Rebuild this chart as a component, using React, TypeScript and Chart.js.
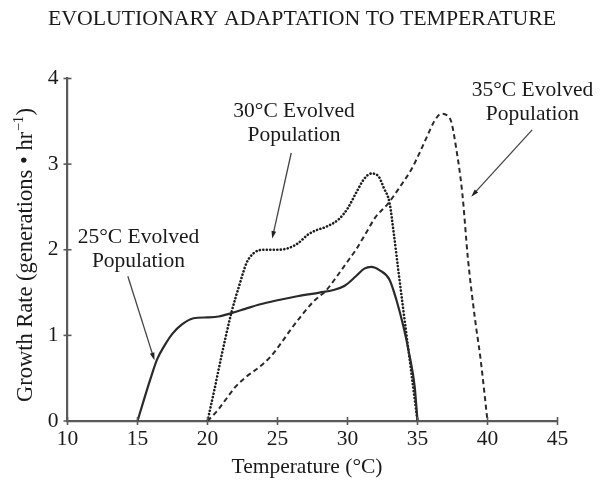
import React, { useEffect, useRef } from "react";
import { Chart, registerables } from "chart.js";

Chart.register(...registerables);

// ---- text ----
const chartTitle = "EVOLUTIONARY ADAPTATION TO TEMPERATURE";
const xAxisTitle = "Temperature (°C)";
const yAxisTitleMain = "Growth Rate (generations • hr";
const yAxisTitleSup = "−1";
const yAxisTitleEnd = ")";

// ---- ticks ----
const xTickValues = [10, 15, 20, 25, 30, 35, 40, 45];
const yTickValues = [0, 1, 2, 3, 4];

// ---- 25°C evolved population (solid) ----
const pop25Temp = [15, 15.5, 16, 16.4, 17, 17.5, 18.2, 19, 20, 20.8, 21.7, 22.7, 23.7, 25, 26.5, 28, 29, 29.8, 30.6, 31.2, 31.7, 32.3, 33, 33.5, 34, 34.4, 34.8, 35];
const pop25Rate = [0, 0.27, 0.53, 0.72, 0.9, 1.02, 1.13, 1.2, 1.21, 1.22, 1.26, 1.31, 1.36, 1.41, 1.46, 1.5, 1.53, 1.58, 1.69, 1.78, 1.8, 1.76, 1.65, 1.41, 1.1, 0.79, 0.4, 0];

// ---- 30°C evolved population (dotted) ----
const pop30Temp = [20, 20.5, 21, 21.7, 22.3, 22.8, 23.3, 24, 25, 25.8, 26.5, 27.2, 27.8, 28.5, 29.4, 30, 30.6, 31.2, 31.7, 32.2, 32.6, 33, 33.3, 33.6, 34, 34.5, 35];
const pop30Rate = [0, 0.37, 0.76, 1.26, 1.6, 1.85, 1.96, 2.0, 2.0, 2.02, 2.08, 2.18, 2.23, 2.27, 2.36, 2.48, 2.66, 2.83, 2.89, 2.86, 2.72, 2.55, 2.2, 1.8, 1.28, 0.64, 0];

// ---- 35°C evolved population (dashed) ----
const pop35Temp = [20, 20.7, 21.3, 22, 22.8, 23.7, 24.5, 25.3, 26, 26.8, 27.6, 28.5, 29.2, 29.9, 30.6, 31.3, 32, 32.9, 33.6, 34.6, 35.2, 35.7, 36.2, 36.7, 37.1, 37.4, 37.75, 38.2, 38.6, 39.1, 39.5, 40];
const pop35Rate = [0, 0.12, 0.25, 0.4, 0.52, 0.63, 0.75, 0.92, 1.08, 1.25, 1.4, 1.53, 1.68, 1.84, 2.0, 2.19, 2.38, 2.54, 2.7, 2.95, 3.15, 3.33, 3.5, 3.59, 3.57, 3.5, 3.2, 2.66, 1.9, 1.2, 0.73, 0];

// ---- annotations (data coordinates) ----
const annotationText = [
  ["25°C Evolved", "Population"],
  ["30°C Evolved", "Population"],
  ["35°C Evolved", "Population"],
];
const annotationLabelX = [15.07, 26.18, 43.21];
const annotationLabelY = [2.14, 3.62, 3.86];
const arrowFromX = [14.31, 25.98, 43.19];
const arrowFromY = [1.69, 3.13, 3.4];
const arrowToX = [16.21, 24.62, 38.84];
const arrowToY = [0.71, 2.13, 2.62];

const SERIF = '"Liberation Serif", "Times New Roman", serif';
const INK = "#1a1a1a";
const AXIS = "#5a5a5a";

const toPoints = (xs: number[], ys: number[]) => xs.map((x, i) => ({ x, y: ys[i] }));

const decorPlugin = {
  id: "decor",
  afterDraw(chart: any) {
    const { ctx, scales } = chart;
    const xs = scales.x;
    const ys = scales.y;
    ctx.save();

    // tick marks crossing the axes
    ctx.strokeStyle = AXIS;
    ctx.lineWidth = 1.6;
    xTickValues.forEach((v) => {
      const px = xs.getPixelForValue(v);
      ctx.beginPath();
      ctx.moveTo(px, ys.bottom - 4);
      ctx.lineTo(px, ys.bottom + 4);
      ctx.stroke();
    });
    yTickValues.forEach((v) => {
      const py = ys.getPixelForValue(v);
      ctx.beginPath();
      ctx.moveTo(xs.left - 4, py);
      ctx.lineTo(xs.left + 4, py);
      ctx.stroke();
    });

    ctx.fillStyle = INK;

    // chart title
    ctx.font = `21.8px ${SERIF}`;
    ctx.textAlign = "center";
    ctx.textBaseline = "middle";
    ctx.fillText(chartTitle, 302, 19);

    // x axis title
    ctx.font = `21.5px ${SERIF}`;
    ctx.fillText(xAxisTitle, 307, 467);

    // y axis title with superscript
    ctx.save();
    ctx.translate(26, 255);
    ctx.rotate(-Math.PI / 2);
    ctx.textAlign = "left";
    ctx.font = `22.5px ${SERIF}`;
    const w1 = ctx.measureText(yAxisTitleMain).width;
    const w3 = ctx.measureText(yAxisTitleEnd).width;
    ctx.font = `14.5px ${SERIF}`;
    const w2 = ctx.measureText(yAxisTitleSup).width;
    const total = w1 + w2 + w3 + 1;
    let cx = -total / 2;
    ctx.font = `22.5px ${SERIF}`;
    ctx.fillText(yAxisTitleMain, cx, 0);
    cx += w1;
    ctx.font = `14.5px ${SERIF}`;
    ctx.fillText(yAxisTitleSup, cx + 0.5, -7);
    cx += w2 + 1;
    ctx.font = `22.5px ${SERIF}`;
    ctx.fillText(yAxisTitleEnd, cx, 0);
    ctx.restore();

    // annotations
    ctx.font = `21.5px ${SERIF}`;
    ctx.textAlign = "center";
    annotationText.forEach((lines, i) => {
      const lx = xs.getPixelForValue(annotationLabelX[i]);
      const ly = ys.getPixelForValue(annotationLabelY[i]);
      lines.forEach((t, j) => ctx.fillText(t, lx, ly + j * 24));

      const x1 = xs.getPixelForValue(arrowFromX[i]);
      const y1 = ys.getPixelForValue(arrowFromY[i]);
      const x2 = xs.getPixelForValue(arrowToX[i]);
      const y2 = ys.getPixelForValue(arrowToY[i]);
      const ang = Math.atan2(y2 - y1, x2 - x1);
      const head = 8;
      ctx.strokeStyle = "#444";
      ctx.lineWidth = 1.3;
      ctx.beginPath();
      ctx.moveTo(x1, y1);
      ctx.lineTo(x2 - Math.cos(ang) * head * 0.8, y2 - Math.sin(ang) * head * 0.8);
      ctx.stroke();
      ctx.fillStyle = "#222";
      ctx.beginPath();
      ctx.moveTo(x2, y2);
      ctx.lineTo(x2 - head * Math.cos(ang - 0.3), y2 - head * Math.sin(ang - 0.3));
      ctx.lineTo(x2 - head * Math.cos(ang + 0.3), y2 - head * Math.sin(ang + 0.3));
      ctx.closePath();
      ctx.fill();
      ctx.fillStyle = INK;
    });

    ctx.restore();
  },
};

export default function App() {
  const ref = useRef<HTMLCanvasElement>(null);

  useEffect(() => {
    const canvas = ref.current;
    if (!canvas) return;
    const chart = new Chart(canvas, {
      type: "line",
      data: {
        datasets: [
          {
            label: "25°C Evolved Population",
            data: toPoints(pop25Temp, pop25Rate),
            borderColor: "#2a2a2a",
            borderWidth: 2.2,
            pointRadius: 0,
            fill: false,
            cubicInterpolationMode: "monotone",
          },
          {
            label: "30°C Evolved Population",
            data: toPoints(pop30Temp, pop30Rate),
            borderColor: "#1e1e1e",
            borderWidth: 2.6,
            borderDash: [0.1, 3.4],
            borderCapStyle: "round",
            pointRadius: 0,
            fill: false,
            cubicInterpolationMode: "monotone",
          },
          {
            label: "35°C Evolved Population",
            data: toPoints(pop35Temp, pop35Rate),
            borderColor: "#2a2a2a",
            borderWidth: 2,
            borderDash: [5, 3.5],
            pointRadius: 0,
            fill: false,
            cubicInterpolationMode: "monotone",
          },
        ],
      },
      options: {
        responsive: false,
        animation: false,
        devicePixelRatio: 1,
        layout: { padding: { top: 78.5, right: 50.5, left: 0, bottom: 0 } },
        plugins: {
          legend: { display: false },
          tooltip: { enabled: false },
          title: { display: false },
        },
        scales: {
          x: {
            type: "linear",
            min: 10,
            max: 45,
            afterFit: (s: any) => {
              s.height = 62;
            },
            afterBuildTicks: (s: any) => {
              s.ticks = xTickValues.map((v) => ({ value: v }));
            },
            grid: { display: false, drawTicks: false },
            border: { display: true, color: AXIS, width: 2.2 },
            ticks: {
              padding: 5,
              color: INK,
              font: { family: SERIF, size: 21.5 },
              maxRotation: 0,
              autoSkip: false,
            },
          },
          y: {
            type: "linear",
            min: 0,
            max: 4,
            afterFit: (s: any) => {
              s.width = 67.5;
            },
            afterBuildTicks: (s: any) => {
              s.ticks = yTickValues.map((v) => ({ value: v }));
            },
            grid: { display: false, drawTicks: false },
            border: { display: true, color: AXIS, width: 2.2 },
            ticks: {
              padding: 9,
              color: INK,
              font: { family: SERIF, size: 21.5 },
              autoSkip: false,
            },
          },
        },
      },
      plugins: [decorPlugin],
    });
    return () => chart.destroy();
  }, []);

  return (
    <div style={{ position: "fixed", left: 0, top: 0, width: 608, height: 483, background: "#fff" }}>
      <canvas ref={ref} width={608} height={483} style={{ display: "block", width: 608, height: 483 }} />
    </div>
  );
}
